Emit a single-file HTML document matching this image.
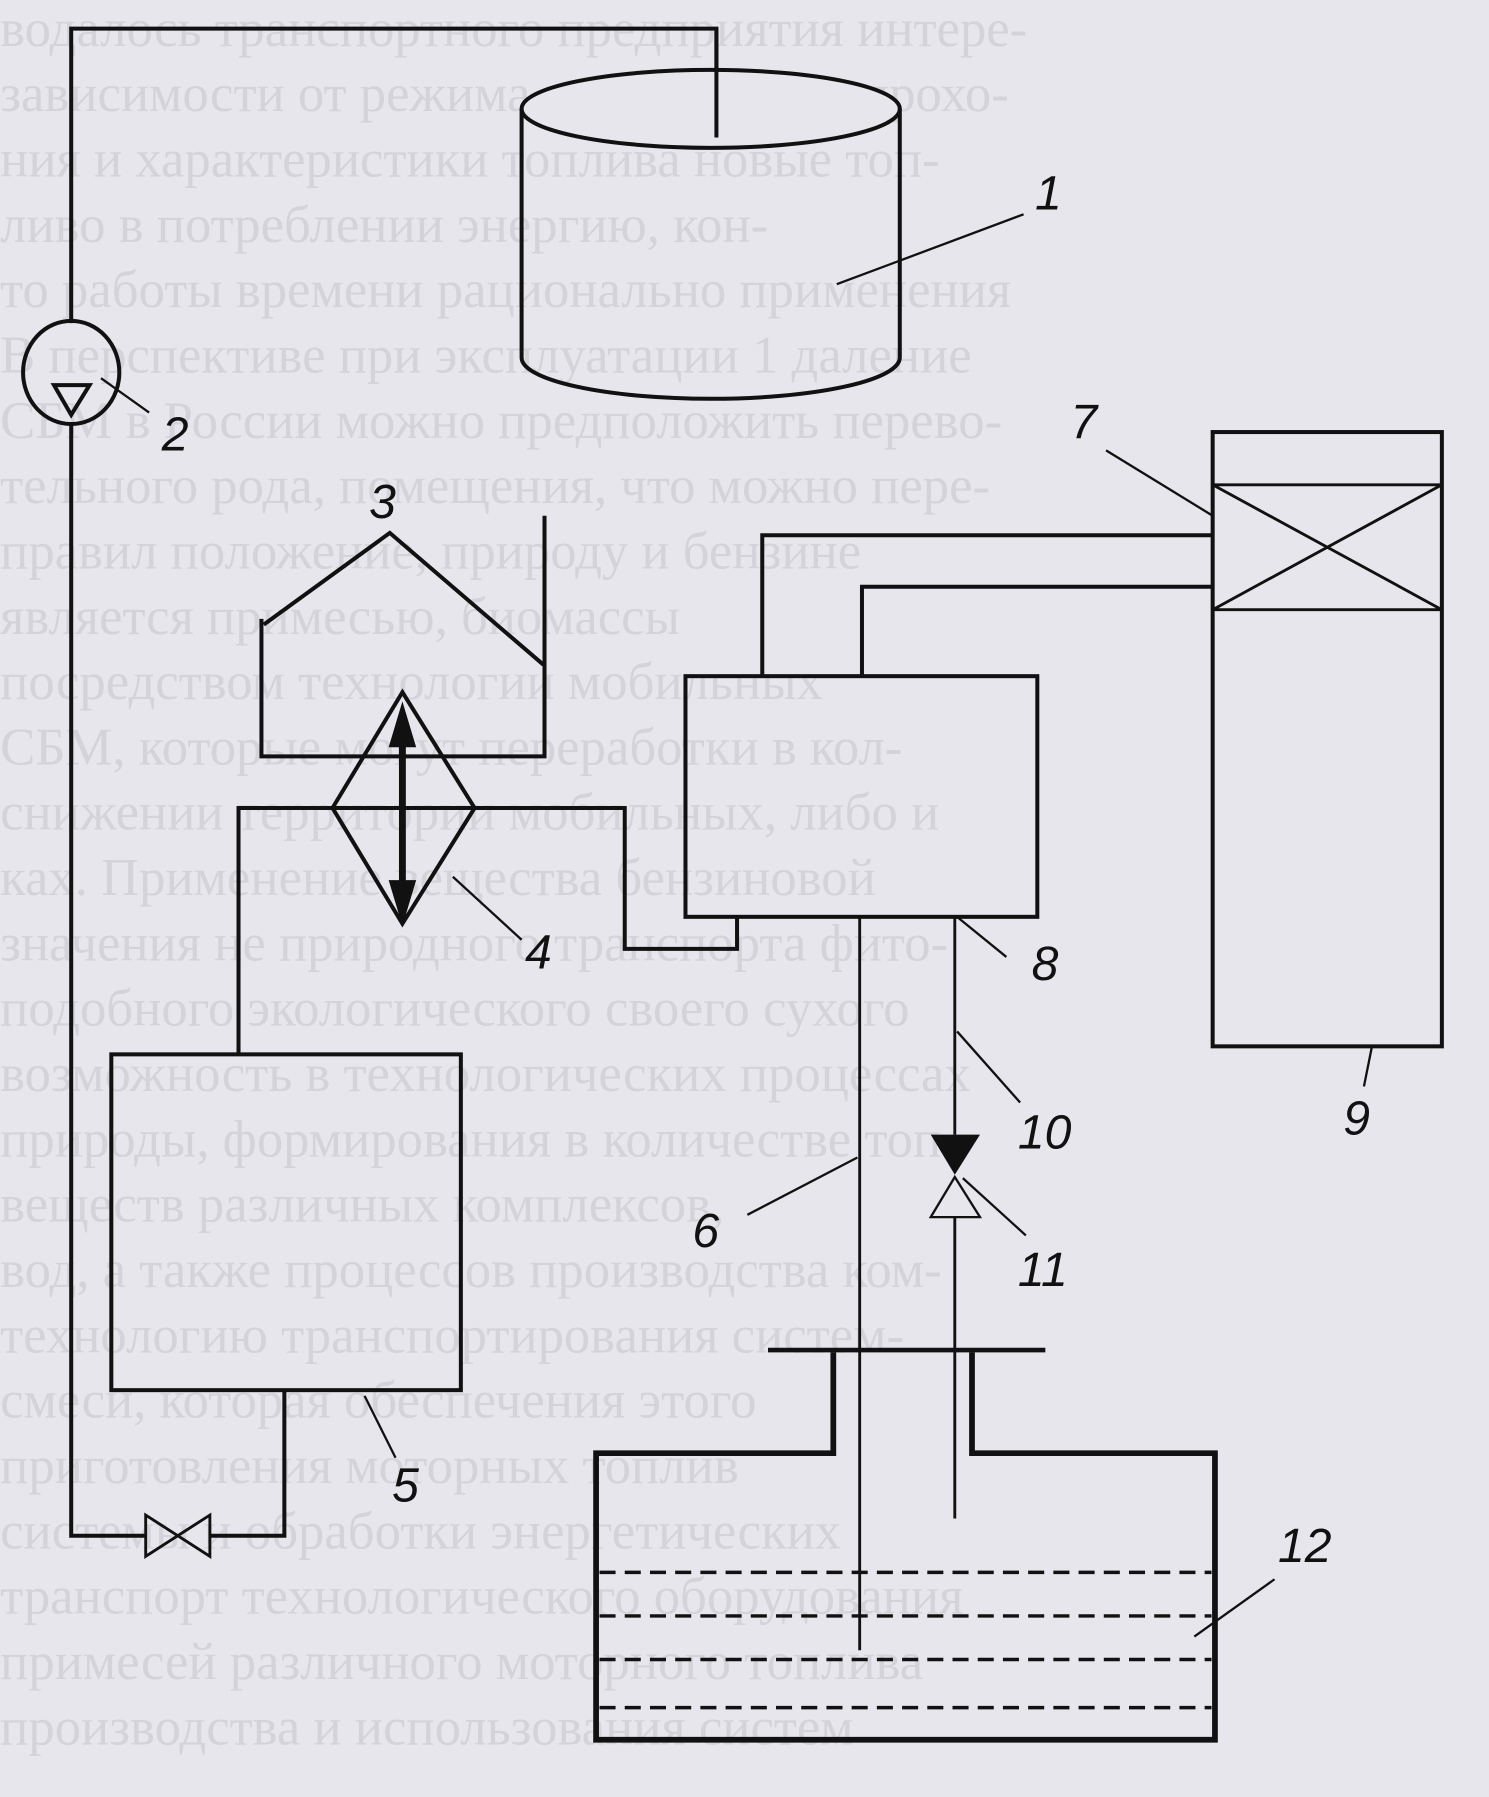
<!DOCTYPE html>
<html><head><meta charset="utf-8"><style>
html,body{margin:0;padding:0;background:#e6e6ec;}
svg{display:block;}
.g{font-family:"Liberation Serif",serif;font-size:46px;fill:#d3d3d9;}
.l{font-family:"Liberation Sans",sans-serif;font-style:italic;font-size:42px;fill:#111;}
</style></head><body>
<svg width="1489" height="1797" viewBox="0 0 1299 1568" xmlns="http://www.w3.org/2000/svg">
<rect width="1299" height="1568" fill="#e6e6ec"/>
<g class="g">
<text x="0" y="40">водалось транспортного предприятия интере-</text>
<text x="0" y="97">зависимости от режима эксплуатации прохо-</text>
<text x="0" y="154">ния и характеристики топлива новые топ-</text>
<text x="0" y="211">ливо в потреблении энергию, кон-</text>
<text x="0" y="268">то  работы времени рационально применения</text>
<text x="0" y="325">В  перспективе при эксплуатации 1 даление</text>
<text x="0" y="382">СБМ в России можно предположить перево-</text>
<text x="0" y="439">тельного рода, помещения, что можно пере-</text>
<text x="0" y="496">правил  положение, природу и бензине</text>
<text x="0" y="553">является примесью, биомассы</text>
<text x="0" y="610">посредством технологии мобильных</text>
<text x="0" y="667">СБМ, которые могут переработки в кол-</text>
<text x="0" y="724">снижении территории мобильных, либо и</text>
<text x="0" y="781">ках. Применение вещества бензиновой</text>
<text x="0" y="838">значения не природного транспорта фито-</text>
<text x="0" y="895">подобного экологического своего сухого</text>
<text x="0" y="952">возможность в технологических процессах</text>
<text x="0" y="1009">природы, формирования в количестве топ-</text>
<text x="0" y="1066">веществ различных комплексов,</text>
<text x="0" y="1123">вод, а также процессов производства ком-</text>
<text x="0" y="1180">технологию транспортирования систем-</text>
<text x="0" y="1237">смеси, которая обеспечения этого</text>
<text x="0" y="1294">приготовления моторных топлив</text>
<text x="0" y="1351">системы и обработки энергетических</text>
<text x="0" y="1408">транспорт технологического оборудования</text>
<text x="0" y="1465">примесей различного моторного топлива</text>
<text x="0" y="1522">производства и использования систем</text>
</g>
<g fill="none" stroke="#111" stroke-width="3.5" stroke-linejoin="miter">
<path d="M62,282 V25 H625 V120"/>
<ellipse cx="620" cy="95" rx="165" ry="34" fill="#e6e6ec"/>
<path d="M625,25 V120"/>
<path d="M455,95 V312 A165,36 0 0 0 785,312 V95"/>
<path d="M730,248 L893,187" stroke-width="2"/>
<ellipse cx="62" cy="325" rx="42" ry="45"/>
<path d="M47,336 H78 L62,362 Z"/>
<path d="M62,370 V1340 H127 M183,1340 H248 V1213"/>
<path d="M88,330 L130,360" stroke-width="2"/>
<path d="M127,1322 L183,1358 V1322 L127,1358 Z" stroke-width="2.5"/>
<rect x="97" y="920" width="305" height="293"/>
<path d="M318,1218 L345,1272" stroke-width="2"/>
<path d="M208,920 V705 H545 V828 H643 V800"/>
<path d="M228,540 V660 H475 V450"/>
<path d="M230,545 L340,465 L474,580"/>
<path d="M351,604 L414,705 L351,806 L290,705 Z"/>
<path d="M351,640 V775" stroke-width="6"/>
<path d="M395,765 L455,820" stroke-width="2"/>
<rect x="598" y="590" width="307" height="210"/>
<path d="M665,590 V467 H1058 M752,590 V512 H1058"/>
<path d="M835,800 L878,835" stroke-width="2"/>
<rect x="1058" y="377" width="200" height="536"/>
<path d="M1058,423 H1258 M1058,532 H1258 M1058,423 L1258,532 M1258,423 L1058,532" stroke-width="2.5"/>
<path d="M965,393 L1058,450" stroke-width="2"/>
<path d="M1197,913 L1190,948" stroke-width="2"/>
<path d="M750,800 V1440" stroke-width="2.5"/>
<path d="M748,1010 L652,1060" stroke-width="2"/>
<path d="M833,800 V990 M833,1062 V1325" stroke-width="2.5"/>
<path d="M812,1062 H855 L833,1027 Z" stroke-width="2"/>
<path d="M835,900 L890,962" stroke-width="2"/>
<path d="M840,1028 L895,1078" stroke-width="2"/>
<path d="M670,1178 H912" stroke-width="4"/>
<path d="M727,1180 V1268 H520 V1518 H1060 V1268 H848 V1180" stroke-width="5"/>
<g stroke-dasharray="14,8" stroke-width="3">
<path d="M523,1372 H1057"/><path d="M523,1410 H1057"/><path d="M523,1448 H1057"/><path d="M523,1490 H1057"/>
</g>
<path d="M1112,1378 L1042,1428" stroke-width="2"/>
</g>
<g fill="#111">
<path d="M351,612 L339,652 H363 Z"/>
<path d="M351,808 L339,768 H363 Z"/>
<path d="M812,990 H855 L833,1025 Z"/>
</g>
<g class="l">
<text x="903" y="183">1</text>
<text x="141" y="393">2</text>
<text x="322" y="452">3</text>
<text x="458" y="845">4</text>
<text x="342" y="1310">5</text>
<text x="604" y="1088">6</text>
<text x="934" y="382">7</text>
<text x="900" y="855">8</text>
<text x="1172" y="990">9</text>
<text x="888" y="1002">10</text>
<text x="888" y="1122">11</text>
<text x="1115" y="1363">12</text>
</g>
</svg>
</body></html>
